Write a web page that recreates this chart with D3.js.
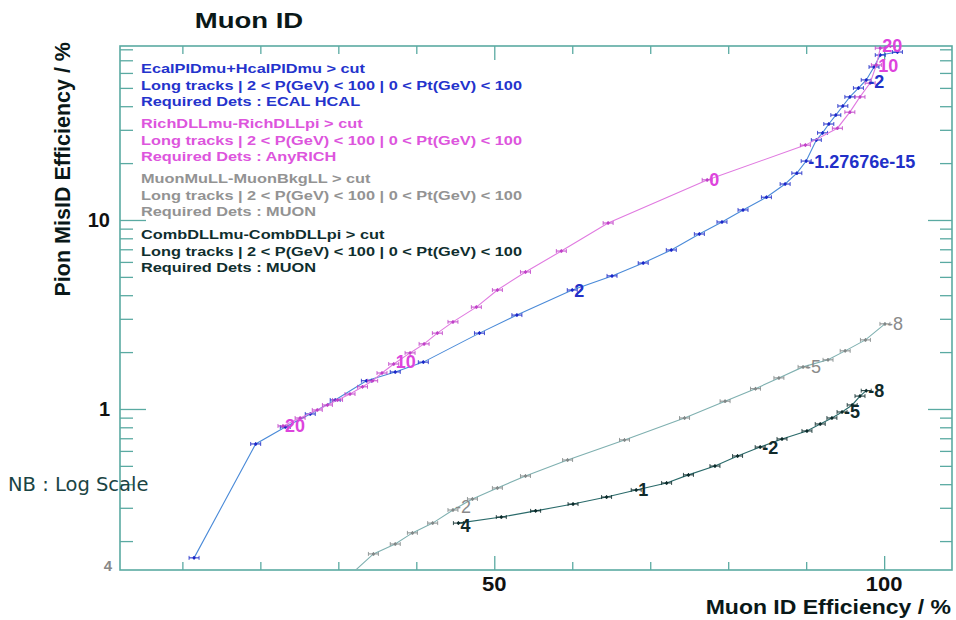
<!DOCTYPE html>
<html><head><meta charset="utf-8">
<script src="https://cdn.jsdelivr.net/npm/d3@7"></script>
<style>
html,body{margin:0;padding:0;background:#fff;}
svg{display:block;font-family:"Liberation Sans",Arial,sans-serif;}
</style></head>
<body><svg id="c" width="956" height="620"></svg>
<script>
// ---- data ----
const xMinorTicks = [10,20,30,40,60,70,80,90];
const xMajorTicks = [50,100];
const xTickLabels = ["50","100"];
const yMajorTicks = [1,10];
const yTickLabels = ["1","10"];
const yMinorTicks = [0.2,0.3,0.4,0.5,0.6,0.7,0.8,0.9,2,3,4,5,6,7,8,9,20,30,40,50,60,70,80];

const ecalEff = [11.5,19.4,23.2,26.4,29.6,33.6,37.3,40.9,48.1,52.9,60.0,65.1,69.1,72.7,76.3,79.2,81.9,84.9,87.3,88.8,90.0,91.3,92.1,92.9,93.8,94.7,95.6,96.7,97.7,98.7,99.5,101.7];
const ecalMis = [0.163,0.653,0.803,0.941,1.116,1.41,1.57,1.77,2.52,3.14,4.26,5.06,5.92,6.94,8.43,9.76,11.3,13.2,15.5,17.7,20.5,26.5,28.9,32.2,35.9,40.1,44.8,49.9,55.1,64.5,74.6,77.4];
const ecalLabelIdx = [10,20,28];
const ecalLabels = ["2","-1.27676e-15","-2"];

const richEff = [22.9,25.1,27.3,28.6,29.9,31.5,33.1,34.4,35.6,37.1,39.2,41.0,42.7,44.7,47.7,50.4,54.0,58.6,64.6,77.3,89.9,94.0,95.6,96.9,98.2,99.0,99.5,100.8];
const richMis = [0.813,0.896,0.988,1.05,1.116,1.20,1.31,1.41,1.55,1.73,1.98,2.21,2.52,2.89,3.46,4.26,5.31,6.85,9.64,16.3,24.9,30.6,37.2,44.8,53.0,66.1,81.2,83.3];
const richLabelIdx = [0,9,19,25,26];
const richLabels = ["20","10","0","10","20"];

const muonEff = [31.5,34.5,37.3,39.5,42.1,44.7,47.2,50.4,54.0,59.4,66.7,74.4,79.6,83.5,86.5,89.6,92.8,95.0,97.6,100.1];
const muonMis = [0.132,0.171,0.193,0.221,0.249,0.292,0.334,0.382,0.442,0.537,0.686,0.896,1.10,1.28,1.46,1.67,1.82,2.03,2.32,2.82];
const muonLabelIdx = [5,15,19];
const muonLabels = ["-2","-5","-8"];

const combEff = [45.4,50.9,55.3,60.1,64.4,68.2,72.1,74.9,78.3,81.2,84.1,86.9,90.1,91.8,93.3,94.6,95.9,96.9,97.7];
const combMis = [0.249,0.268,0.289,0.314,0.342,0.373,0.406,0.448,0.499,0.564,0.629,0.694,0.765,0.833,0.896,0.964,1.05,1.17,1.25];
const combLabelIdx = [0,5,10,15,18];
const combLabels = ["4","1","-2","-5","-8"];

const legendBlocks = [
  ["EcalPIDmu+HcalPIDmu > cut","Long tracks | 2 < P(GeV) < 100 | 0 < Pt(GeV) < 100","Required Dets : ECAL HCAL"],
  ["RichDLLmu-RichDLLpi > cut","Long tracks | 2 < P(GeV) < 100 | 0 < Pt(GeV) < 100","Required Dets : AnyRICH"],
  ["MuonMuLL-MuonBkgLL > cut","Long tracks | 2 < P(GeV) < 100 | 0 < Pt(GeV) < 100","Required Dets : MUON"],
  ["CombDLLmu-CombDLLpi > cut","Long tracks | 2 < P(GeV) < 100 | 0 < Pt(GeV) < 100","Required Dets : MUON"]
];

// ---- layout / styles ----
const L=120, R=952, T=46, B=570;
const frameColor="#5aaaa2";
const series = [
  {x:ecalEff,y:ecalMis,li:ecalLabelIdx,lt:ecalLabels,dy:[0,0,2],line:"#4a8ad8",mark:"#1a28c8",text:"#2230c8",weight:"bold"},
  {x:richEff,y:richMis,li:richLabelIdx,lt:richLabels,dy:[0,-2,0,1,-3],line:"#e07ae0",mark:"#c040c8",text:"#dd44dd",weight:"bold"},
  {x:muonEff,y:muonMis,li:muonLabelIdx,lt:muonLabels,dy:[-4,0,0],line:"#7fb0b0",mark:"#808888",text:"#8a8a8a",weight:"normal"},
  {x:combEff,y:combMis,li:combLabelIdx,lt:combLabels,dy:[2,0,0,0,0],line:"#2a6a6a",mark:"#0a2a2a",text:"#102a2a",weight:"bold"}
];
const legendColors=["#2433cc","#dd55dd","#939393","#0f2e2e"];

const x = d3.scaleLinear().domain([2,108.7]).range([L,R]);
const y = d3.scaleLog().domain([0.1406,83.3]).range([B,T]);

const svg = d3.select("#c");

svg.append("defs").append("clipPath").attr("id","clip")
  .append("rect").attr("x",L).attr("y",T).attr("width",R-L).attr("height",B-T);

// axes (ticks inside)
function styleAxis(g){ g.select(".domain").remove(); g.selectAll("line").attr("stroke",frameColor).attr("stroke-width",1.3); g.selectAll("text").remove(); }
svg.append("g").attr("transform",`translate(0,${B})`).call(d3.axisBottom(x).tickValues(xMinorTicks).tickSize(-8)).call(styleAxis);
svg.append("g").attr("transform",`translate(0,${B})`).call(d3.axisBottom(x).tickValues(xMajorTicks).tickSize(-14)).call(styleAxis);
svg.append("g").attr("transform",`translate(0,${T})`).call(d3.axisTop(x).tickValues(xMinorTicks).tickSize(-8)).call(styleAxis);
svg.append("g").attr("transform",`translate(0,${T})`).call(d3.axisTop(x).tickValues(xMajorTicks).tickSize(-14)).call(styleAxis);
svg.append("g").attr("transform",`translate(${L},0)`).call(d3.axisLeft(y).tickValues(yMinorTicks).tickSize(-13)).call(styleAxis);
svg.append("g").attr("transform",`translate(${L},0)`).call(d3.axisLeft(y).tickValues(yMajorTicks).tickSize(-26)).call(styleAxis);
svg.append("g").attr("transform",`translate(${R},0)`).call(d3.axisRight(y).tickValues(yMinorTicks).tickSize(-12)).call(styleAxis);
svg.append("g").attr("transform",`translate(${R},0)`).call(d3.axisRight(y).tickValues(yMajorTicks).tickSize(-24)).call(styleAxis);

svg.append("rect").attr("x",L).attr("y",T).attr("width",R-L).attr("height",B-T)
  .attr("fill","none").attr("stroke",frameColor).attr("stroke-width",1.6);

// tick labels
svg.selectAll(".xl").data(xMajorTicks).enter().append("text")
  .attr("transform",d=>`translate(${x(d)},591) scale(1.1,1)`).attr("text-anchor","middle")
  .attr("font-size",20).attr("font-weight","bold").attr("fill","#111")
  .text((d,i)=>xTickLabels[i]);
svg.selectAll(".yl").data(yMajorTicks).enter().append("text")
  .attr("x",110).attr("y",d=>y(d)+7).attr("text-anchor","end")
  .attr("font-size",20).attr("font-weight","bold").attr("fill","#111")
  .text((d,i)=>yTickLabels[i]);
svg.append("text").attr("x",112).attr("y",y(0.1406)+1).attr("text-anchor","end")
  .attr("font-size",15).attr("font-weight","bold").attr("fill","#888").text("4");

// titles
svg.append("text").attr("transform","translate(249,28) scale(1.25,1)").attr("text-anchor","middle")
  .attr("font-size",22).attr("font-weight","bold").attr("fill","#0a1818").text("Muon ID");
svg.append("text").attr("transform","translate(70,42) rotate(-90)").attr("text-anchor","end")
  .attr("font-size",21.5).attr("font-weight","bold").attr("fill","#0a1818").text("Pion MisID Efficiency / %");
svg.append("text").attr("transform","translate(951,614) scale(1.15,1)").attr("text-anchor","end")
  .attr("font-size",20).attr("font-weight","bold").attr("fill","#0a1818").text("Muon ID Efficiency / %");
svg.append("text").attr("x",8).attr("y",491).attr("font-family","'DejaVu Sans',sans-serif")
  .attr("font-size",19.5).attr("fill","#1a4444").text("NB : Log Scale");

// legend
const legendTop=[73,128,183,239];
legendBlocks.forEach((blk,bi)=>{
  blk.forEach((line,li)=>{
    svg.append("text").attr("transform",`translate(141,${legendTop[bi]+li*16.5}) scale(1.21,1)`)
      .attr("font-size",13.5).attr("font-weight","bold").attr("fill",legendColors[bi]).text(line);
  });
});

// series
const plot = svg.append("g").attr("clip-path","url(#clip)");
const lineGen = d3.line().x(d=>x(d[0])).y(d=>y(d[1]));
series.forEach(s=>{
  const pts = s.x.map((v,i)=>[v,s.y[i]]);
  plot.append("path").datum(pts).attr("d",lineGen).attr("fill","none")
    .attr("stroke",s.line).attr("stroke-width",1.1);
  const g = plot.append("g");
  const pg = g.selectAll("g").data(pts).enter().append("g")
    .attr("transform",d=>`translate(${x(d[0])},${y(d[1])})`);
  pg.append("line").attr("x1",-5).attr("x2",5).attr("stroke",s.mark).attr("stroke-width",1);
  pg.append("line").attr("x1",-5).attr("x2",-5).attr("y1",-2).attr("y2",2).attr("stroke",s.mark).attr("stroke-width",0.8);
  pg.append("line").attr("x1",5).attr("x2",5).attr("y1",-2).attr("y2",2).attr("stroke",s.mark).attr("stroke-width",0.8);
  pg.append("line").attr("y1",-1.8).attr("y2",1.8).attr("stroke",s.mark).attr("stroke-width",1);
  pg.append("circle").attr("r",1.5).attr("fill",s.mark);
});
// labels on curves
series.forEach(s=>{
  s.li.forEach((idx,k)=>{
    svg.append("text").attr("x",x(s.x[idx])+2).attr("y",y(s.y[idx])+6.5+s.dy[k])
      .attr("font-size",18).attr("font-weight",s.weight).attr("fill",s.text).text(s.lt[k]);
  });
});
</script></body></html>
